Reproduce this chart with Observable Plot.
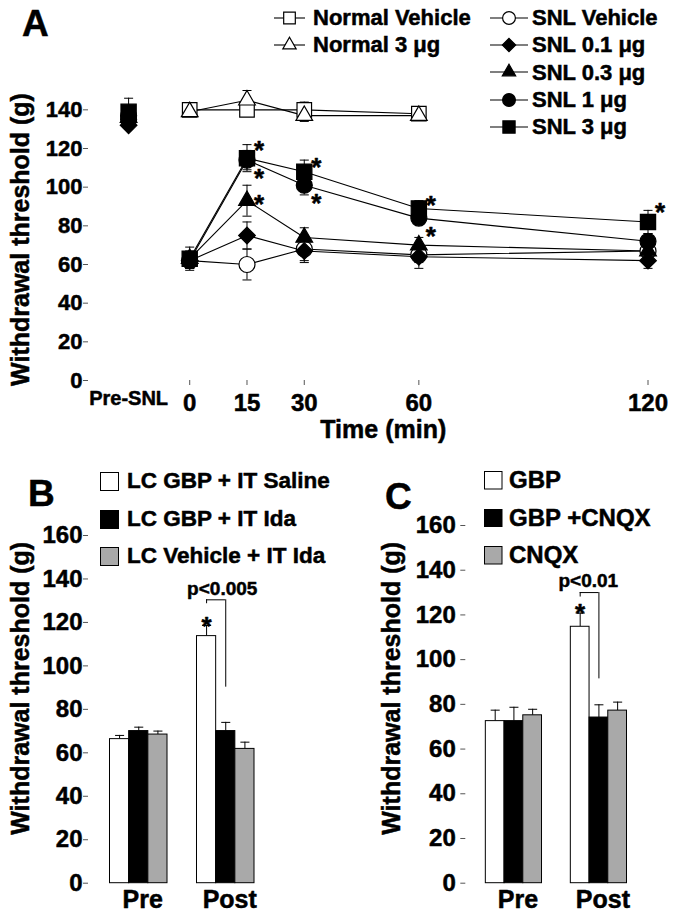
<!DOCTYPE html>
<html><head><meta charset="utf-8">
<script src="https://cdn.jsdelivr.net/npm/d3@7"></script>
<script src="https://cdn.jsdelivr.net/npm/@observablehq/plot@0.6"></script>
<style>
body{margin:0;background:#fff;}
#root{position:relative;width:674px;height:912px;overflow:hidden;background:#fff;font-family:'Liberation Sans',Arial,Helvetica,sans-serif;font-weight:bold;color:#000;}
.abs{position:absolute;white-space:nowrap;line-height:1;-webkit-text-stroke:0.5px #000;}
.pwrap{position:absolute;}
</style></head><body><div id="root"></div>
<script>
// ---------------- Panel A data ----------------
const timeSlots = [-16, 0, 15, 30, 60, 120];   // first slot = "Pre-SNL"
const preSnlSlot = -16;
const preSnlLabel = "Pre-SNL";
const timeTicks = [0, 15, 30, 60, 120];
const yTicksA = [0, 20, 40, 60, 80, 100, 120, 140];
const seriesA = ["Normal Vehicle", "Normal 3 μg", "SNL Vehicle", "SNL 0.1 μg", "SNL 0.3 μg", "SNL 1 μg", "SNL 3 μg"];
const normalVehicle    = [null, 140, 140, 140, 138, null];
const normalVehicleErr = [null, 2, 3, 4, 2, null];
const normal3          = [null, 139, 145, 137, 137, null];
const normal3Err       = [null, 2, 5, 3, 2, null];
const snlVehicle       = [135, 62, 60, 68, 65, 67];
const snlVehicleErr    = [3, 4, 8, 7, 4, 4];
const snl01            = [132, 62, 75, 67, 64, 62];
const snl01Err         = [2, 4, 7, 5, 6, 4];
const snl03            = [136, 63, 93, 74, 70, 67];
const snl03Err         = [3, 4, 8, 5, 4, 4];
const snl1             = [137, 62, 114, 101, 84, 72];
const snl1Err          = [3, 4, 5, 5, 3, 4];
const snl3             = [139, 63, 115, 108, 89, 82];
const snl3Err          = [7, 6, 7, 6, 4, 6];
const starTimes  = [15, 15, 15, 30, 30, 60, 60, 120];
const starValues = [122.4, 107.5, 94.5, 113.7, 95, 94, 77.5, 90.4];

// ---------------- Panel B data ----------------
const groupsBC = ["Pre", "Post"];
const yTicksBC = [0, 20, 40, 60, 80, 100, 120, 140, 160];
const seriesB = ["LC GBP + IT Saline", "LC GBP + IT Ida", "LC Vehicle + IT Ida"];
const preB = [66.3, 70.0, 68.4];
const postB = [113.7, 70.0, 61.8];
const preBErr = [1.7, 1.8, 1.6];
const postBErr = [4.9, 4.0, 3.1];
const bracketB = [128.6, 130.4, 90.2];   // left end, top, right end
const starB = 121;
const pLabelB = "p<0.005";
const pValueB = 135.5;

// ---------------- Panel C data ----------------
const seriesC = ["GBP", "GBP +CNQX", "CNQX"];
const preC = [72.5, 72.5, 75.1];
const postC = [114.7, 74.1, 77.2];
const preCErr = [4.9, 6.2, 2.7];
const postCErr = [6.1, 5.7, 3.8];
const bracketC = [128, 130, 91.4];
const starC = 123.4;
const pLabelC = "p<0.01";
const pValueC = 135;

const yLabel = "Withdrawal threshold (g)";
const xLabelA = "Time (min)";

// ---------------- styles ----------------
const FONT = "'Liberation Sans', Arial, Helvetica, sans-serif";
const AXIS = "#555";
const TS = {fill: "black", stroke: "black", strokeWidth: 0.5};   // text weight boost for marks
const ATS = {textStroke: "black", textStrokeWidth: 0.5};          // text weight boost for axes
const styleA = {
  "Normal Vehicle": {symbol: "square", fill: "white", r: 8.2},
  "Normal 3 μg":    {symbol: "triangle", fill: "white", r: 6.2},
  "SNL Vehicle":    {symbol: "circle", fill: "white", r: 8},
  "SNL 0.1 μg":     {symbol: "diamond2", fill: "black", r: 7.5},
  "SNL 0.3 μg":     {symbol: "triangle", fill: "black", r: 6.2},
  "SNL 1 μg":       {symbol: "circle", fill: "black", r: 8},
  "SNL 3 μg":       {symbol: "square", fill: "black", r: 8.6}
};
const d3Symbols = {square: d3.symbolSquare, triangle: d3.symbolTriangle, circle: d3.symbolCircle, diamond2: d3.symbolDiamond2};
const barFills = ["white", "black", "#a9a9a9"];
const capSymbol = {draw(ctx, size) { const w = Math.sqrt(size) / 2; ctx.moveTo(-w, 0); ctx.lineTo(w, 0); }};
const svgStyle = {fontFamily: FONT, fontWeight: "bold", color: "black", background: "transparent", overflow: "visible"};

const root = document.getElementById("root");
function place(node, left, top, width) {
  const d = document.createElement("div");
  d.className = "pwrap";
  d.style.left = left + "px"; d.style.top = top + "px"; d.style.width = width + "px";
  d.appendChild(node);
  root.appendChild(d);
}
function addText(txt, left, centerY, fs) {
  const d = document.createElement("div");
  d.className = "abs";
  d.textContent = txt;
  d.style.fontSize = fs + "px";
  d.style.left = left + "px";
  d.style.top = (centerY - 0.4885 * fs) + "px";
  root.appendChild(d);
}
function addLetter(txt, left, capTop) {
  const fs = 37;
  const d = document.createElement("div");
  d.className = "abs";
  d.textContent = txt;
  d.style.fontSize = fs + "px";
  d.style.left = left + "px";
  d.style.top = (capTop - 0.1305 * fs) + "px";
  root.appendChild(d);
}

// ---------------- Panel A ----------------
const valuesA = [normalVehicle, normal3, snlVehicle, snl01, snl03, snl1, snl3];
const errsA = [normalVehicleErr, normal3Err, snlVehicleErr, snl01Err, snl03Err, snl1Err, snl3Err];
const rowsA = seriesA.flatMap((s, i) => timeSlots.map((t, j) => ({series: s, t, v: valuesA[i][j], e: errsA[i][j]}))).filter(d => d.v != null);
const stars = starTimes.map((t, i) => ({t, v: starValues[i]}));

const marksA = [
  Plot.axisY({ticks: yTicksA, tickSize: 5, tickPadding: 1, fontSize: 22, stroke: AXIS, line: true, label: null, ...ATS}),
  Plot.axisX({ticks: timeTicks, tickSize: 5, tickPadding: 8, fontSize: 24, stroke: AXIS, line: true, label: null, ...ATS}),
  Plot.axisX({ticks: [preSnlSlot], tickSize: 0, tickPadding: 10, fontSize: 20, tickFormat: () => preSnlLabel, label: null, ...ATS}),
  Plot.line(rowsA.filter(d => d.t !== preSnlSlot), {x: "t", y: "v", z: "series", stroke: "black", strokeWidth: 1.1}),
  Plot.ruleX(rowsA, {x: "t", y1: d => d.v - d.e, y2: d => d.v + d.e, stroke: "black", strokeWidth: 1}),
  Plot.dot(rowsA, {x: "t", y: d => d.v + d.e, symbol: capSymbol, r: 5.1, stroke: "black", fill: "none", strokeWidth: 1}),
  Plot.dot(rowsA, {x: "t", y: d => d.v - d.e, symbol: capSymbol, r: 5.1, stroke: "black", fill: "none", strokeWidth: 1})
];
for (const s of seriesA) {
  const st = styleA[s];
  marksA.push(Plot.dot(rowsA.filter(d => d.series === s), {x: "t", y: "v", symbol: st.symbol, r: st.r, fill: st.fill, stroke: "black", strokeWidth: 1.2}));
}
marksA.push(
  Plot.text(stars, {x: "t", y: "v", text: () => "*", dx: 12, dy: 6.5, fontSize: 26, ...TS}),
  Plot.text([yLabel], {frameAnchor: "left", textAnchor: "middle", text: d => d, rotate: -90, dx: -68, dy: 4, fontSize: 25, ...TS}),
  Plot.text([xLabelA], {frameAnchor: "bottom", textAnchor: "middle", text: d => d, dx: 15, dy: 57, fontSize: 25, ...TS})
);
const plotA = Plot.plot({
  width: 674, height: 460, marginLeft: 88, marginRight: 26.5, marginTop: 90, marginBottom: 80,
  x: {domain: [-26.5, 120]}, y: {domain: [0, 150]},
  style: svgStyle,
  marks: marksA
});
place(plotA, 0, 0, 674);

// legend A (HTML)
function swatchA(s, lineW) {
  const st = styleA[s];
  const svg = d3.create("svg").attr("width", lineW).attr("height", 20);
  svg.append("line").attr("x1", 0).attr("x2", lineW).attr("y1", 10).attr("y2", 10).attr("stroke", "black").attr("stroke-width", 1.1);
  const rr = st.r * 0.8;
  svg.append("path").attr("d", d3.symbol(d3Symbols[st.symbol], Math.PI * rr * rr)())
    .attr("transform", `translate(${lineW / 2},10)`).attr("fill", st.fill).attr("stroke", "black").attr("stroke-width", 1.2);
  return svg.node();
}
seriesA.forEach((s, i) => {
  const col = i < 2 ? 0 : 1;
  const row = col === 0 ? i : i - 2;
  const cy = 18 + row * 27.2;
  const lineW = col === 0 ? 31 : 38;
  const sx = col === 0 ? 274 : 490;
  place(swatchA(s, lineW), sx, cy - 10, lineW);
  addText(s, col === 0 ? 313 : 532, cy, 22);
});
addLetter("A", 22, 10);

// ---------------- Panels B & C ----------------
function barPanel(cfg) {
  const {series, pre, post, preErr, postErr, bracket, starValue, pLabel, pValue, pDx, dims, band, yLabelDx, yLabelDy, yTickPadding} = cfg;
  const rows = [];
  groupsBC.forEach((g, gi) => series.forEach((s, si) => rows.push({group: g, series: s, si, v: (gi === 0 ? pre : post)[si], e: (gi === 0 ? preErr : postErr)[si]})));
  const bw = d3.scaleBand(groupsBC, [dims.marginLeft, dims.width - dims.marginRight])
    .paddingInner(band.paddingInner).paddingOuter(band.paddingOuter).align(band.align).bandwidth();
  const n = series.length;
  const third = bw / n;
  const postKey = groupsBC[1];
  const marks = [
    Plot.axisY({ticks: yTicksBC, tickSize: 5, tickPadding: yTickPadding, fontSize: 24, stroke: AXIS, line: true, label: null, ...ATS}),
    Plot.axisX({tickSize: 0, tickPadding: 7, fontSize: 25, stroke: AXIS, line: true, label: null, dx: 4, ...ATS})
  ];
  series.forEach((s, si) => {
    const sub = rows.filter(d => d.si === si);
    const off = (si - (n - 1) / 2) * third;
    marks.push(
      Plot.ruleX(sub, {x: "group", y1: "v", y2: d => d.v + d.e, dx: off, stroke: "black", strokeWidth: 1}),
      Plot.dot(sub, {x: "group", y: d => d.v + d.e, dx: off, symbol: capSymbol, r: 5.1, stroke: "black", fill: "none", strokeWidth: 1}),
      Plot.barY(sub, {x: "group", y: "v", fill: barFills[si], stroke: "black", strokeWidth: 1, insetLeft: si * third, insetRight: (n - 1 - si) * third})
    );
  });
  marks.push(
    Plot.ruleX([bracket], {x: () => postKey, y1: d => d[0], y2: d => d[1], dx: -third, stroke: "black", strokeWidth: 1}),
    Plot.ruleX([bracket], {x: () => postKey, y1: d => d[2], y2: d => d[1], dx: 0, stroke: "black", strokeWidth: 1}),
    Plot.ruleY([bracket], {x1: () => postKey, x2: () => postKey, y: d => d[1], insetLeft: third / 2, insetRight: bw - 1.5 * third, stroke: "black", strokeWidth: 1}),
    Plot.text([starValue], {x: () => postKey, y: d => d, text: () => "*", dx: -third, dy: 6.5, fontSize: 26, ...TS}),
    Plot.text([pLabel], {x: () => postKey, y: () => pValue, text: d => d, dx: pDx, fontSize: 19, ...TS}),
    Plot.text([yLabel], {frameAnchor: "left", textAnchor: "middle", text: d => d, rotate: -90, dx: yLabelDx, dy: yLabelDy, fontSize: 25, ...TS})
  );
  return Plot.plot({
    ...dims,
    x: {type: "band", domain: groupsBC, paddingInner: band.paddingInner, paddingOuter: band.paddingOuter, align: band.align, round: false},
    y: {domain: [0, 160]},
    style: svgStyle,
    marks
  });
}

const plotB = barPanel({
  series: seriesB, pre: preB, post: postB, preErr: preBErr, postErr: postBErr,
  bracket: bracketB, starValue: starB, pLabel: pLabelB, pValue: pValueB, pDx: -3.5,
  dims: {width: 337, height: 452, marginLeft: 88, marginRight: 50, marginTop: 75, marginBottom: 29.3},
  band: {paddingInner: 0.339, paddingOuter: 0.3132, align: 0.3945},
  yLabelDx: -68, yLabelDy: -21, yTickPadding: 1
});
place(plotB, 0, 460, 337);

const plotC = barPanel({
  series: seriesC, pre: preC, post: postC, preErr: preCErr, postErr: postCErr,
  bracket: bracketC, starValue: starC, pLabel: pLabelC, pValue: pValueC, pDx: -10.6,
  dims: {width: 337, height: 452, marginLeft: 128.3, marginRight: 30.3, marginTop: 65, marginBottom: 29.3},
  band: {paddingInner: 0.339, paddingOuter: 0.219, align: 0.538},
  yLabelDx: -74, yLabelDy: -16, yTickPadding: 5
});
place(plotC, 337, 460, 337);

// legends B & C (HTML)
function swatchBox(fill, size) {
  const svg = d3.create("svg").attr("width", size + 1).attr("height", size + 1);
  svg.append("rect").attr("x", 0.5).attr("y", 0.5).attr("width", size).attr("height", size).attr("fill", fill).attr("stroke", "black").attr("stroke-width", 1);
  return svg.node();
}
seriesB.forEach((s, i) => {
  const cy = 481 + i * 37.5;
  place(swatchBox(barFills[i], 18), 100, cy - 9, 19);
  addText(s, 127, cy, 22.5);
});
seriesC.forEach((s, i) => {
  const cy = 480 + i * 37.5;
  place(swatchBox(barFills[i], 17.5), 484, cy - 9, 19);
  addText(s, 509, cy, 24);
});
addLetter("B", 28, 480);
addLetter("C", 385, 483);
</script></body></html>
